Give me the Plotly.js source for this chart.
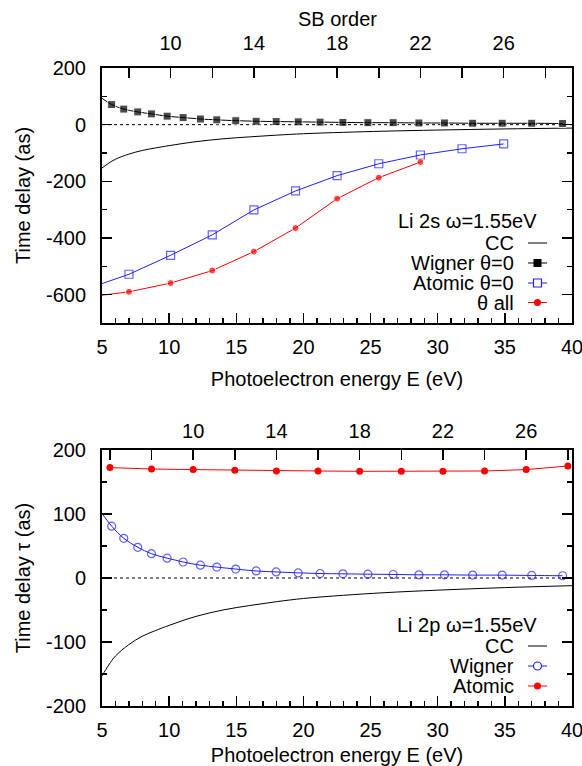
<!DOCTYPE html>
<html>
<head>
<meta charset="utf-8">
<script src="https://cdn.plot.ly/plotly-3.0.1.min.js"></script>
<style>html,body{margin:0;padding:0;background:#fff}#plot{width:582px;height:766px}</style>
</head>
<body>
<div id="plot"></div>
<script>
// ---------- data ----------
const omega = 1.55;      // photon energy, eV
const ip2s = 5.39;       // Li 2s binding energy used for SB axis
const ip2p = 3.71;       // Li 2p binding energy used for SB axis

// CC (continuum-continuum) delay, same for both panels
const ccE   = [5, 5.5, 6, 7, 8, 9, 10, 12, 14, 16, 18, 20, 23, 26, 30, 35, 40];
const ccTau = [-153, -136, -122, -104, -91, -82, -74, -60, -50, -43, -37, -32, -27, -23, -19, -15, -12];

// Wigner delay grid (uniform in momentum)
const wignerE   = [5, 5.72, 6.62, 7.66, 8.68, 9.85, 11.04, 12.33, 13.55, 14.96, 16.48, 17.97, 19.61, 21.24, 22.94, 24.8, 26.68, 28.6, 30.5, 32.6, 34.8, 37.0, 39.3];
const wigner2s  = [93, 71, 55, 45, 38, 30, 25, 20, 17, 14, 12, 11, 10, 9, 8, 7, 7, 6, 6, 5, 5, 5, 4];
const wigner2p  = [101, 81, 62, 48, 38, 31, 25, 20, 17, 14, 11, 9.5, 8, 7, 6.5, 6, 5.5, 5, 5, 4.5, 4.5, 4, 3.5];

// Li 2s atomic delays at sideband energies
const atomicE2s  = [5, 7.01, 10.11, 13.21, 16.31, 19.41, 22.51, 25.61, 28.71, 31.81, 34.91];
const atomic2s   = [-561, -528, -461, -389, -301, -234, -180, -138, -107, -85, -68];
const thetaAllE  = [5, 7.01, 10.11, 13.21, 16.31, 19.41, 22.51, 25.61, 28.71];
const thetaAll2s = [-602, -590, -559, -515, -448, -365, -261, -187, -132];

// Li 2p atomic delays at sideband energies
const atomicE2p = [5.59, 8.69, 11.79, 14.89, 17.99, 21.09, 24.19, 27.29, 30.39, 33.49, 36.59, 39.69];
const atomic2p  = [172.5, 170.3, 169.4, 168.3, 167.2, 167.2, 166.7, 166.7, 166.7, 167.2, 169.4, 175];

// tick labels
const eTicks      = [5, 10, 15, 20, 25, 30, 35, 40];
const yTicksTop   = [200, 0, -200, -400, -600];
const yTextTop    = ['200', '0', '-200', '-400', '-600'];
const yTicksBot   = [200, 100, 0, -100, -200];
const yTextBot    = ['200', '100', '0', '-100', '-200'];
const sbTicksTop  = [8, 10, 12, 14, 16, 18, 20, 22, 24, 26, 28];
const sbTicksBot  = [6, 8, 10, 12, 14, 16, 18, 20, 22, 24, 26, 28];
const sbLabelled  = [10, 14, 18, 22, 26];

// ---------- styling ----------
const FONT = 'Liberation Sans, Arial, sans-serif';
const FS = 20;
const BLUE = '#2020ff';
const RED = '#ff0000';

const L = 102, R = 572, T = 68, B = 706, W = 582, H = 766;
const px = x => (x - L) / (R - L);
const py = y => (B - y) / (B - T);

function sizes(arr, s, skipFirst) { return arr.map((_, i) => (skipFirst && i === 0) ? 0 : s); }

const traces = [
  {x: ccE, y: ccTau, xaxis: 'x', yaxis: 'y', mode: 'lines', line: {color: 'black', width: 1, shape: 'spline'}},
  {x: wignerE, y: wigner2s, xaxis: 'x', yaxis: 'y', mode: 'lines+markers', line: {color: 'black', width: 1, shape: 'spline'},
   marker: {symbol: 'square', color: 'black', size: sizes(wignerE, 8, true)}},
  {x: atomicE2s, y: atomic2s, xaxis: 'x', yaxis: 'y', mode: 'lines+markers', line: {color: BLUE, width: 1},
   marker: {symbol: 'square-open', color: BLUE, size: sizes(atomicE2s, 8, true), line: {width: 1.2}}},
  {x: thetaAllE, y: thetaAll2s, xaxis: 'x', yaxis: 'y', mode: 'lines+markers', line: {color: RED, width: 1},
   marker: {symbol: 'circle', color: RED, size: sizes(thetaAllE, 7, true)}},
  {x: [], y: [], xaxis: 'x2', yaxis: 'y', mode: 'markers'},

  {x: ccE, y: ccTau, xaxis: 'x3', yaxis: 'y2', mode: 'lines', line: {color: 'black', width: 1, shape: 'spline'}},
  {x: wignerE, y: wigner2p, xaxis: 'x3', yaxis: 'y2', mode: 'lines+markers', line: {color: BLUE, width: 1, shape: 'spline'},
   marker: {symbol: 'circle-open', color: BLUE, size: sizes(wignerE, 8, true), line: {width: 1.2}}},
  {x: atomicE2p, y: atomic2p, xaxis: 'x3', yaxis: 'y2', mode: 'lines+markers', line: {color: RED, width: 1},
   marker: {symbol: 'circle', color: RED, size: 7}},
  {x: [], y: [], xaxis: 'x4', yaxis: 'y2', mode: 'markers'}
];

const axBase = {
  showgrid: false, zeroline: false, showline: true, linecolor: 'black', linewidth: 2,
  ticks: 'inside', ticklen: 10, tickwidth: 1.5, tickcolor: 'black', ticklabeloverflow: 'allow',
  tickfont: {family: FONT, size: FS, color: 'black'}, fixedrange: true
};

function eAxis(anchor, titleStandoff) {
  return Object.assign({}, axBase, {
    anchor: anchor, range: [5, 40], tickmode: 'array', tickvals: eTicks, ticktext: eTicks.map(String),
    ticklabelstandoff: 5,
    minor: {tickmode: 'linear', tick0: 5, dtick: 1, ticks: 'inside', ticklen: 5, tickwidth: 1.5, tickcolor: 'black'},
    title: {text: 'Photoelectron energy E (eV)', font: {family: FONT, size: FS, color: 'black'}, standoff: titleStandoff}
  });
}
function sbAxis(over, anchor, ip, ticks, standoff) {
  return Object.assign({}, axBase, {
    overlaying: over, anchor: anchor, side: 'top',
    range: [(5 + ip) / omega, (40 + ip) / omega],
    tickmode: 'array', tickvals: ticks, ticktext: ticks.map(t => sbLabelled.includes(t) ? String(t) : ''),
    ticklabelstandoff: standoff
  });
}

const layout = {
  width: W, height: H, paper_bgcolor: 'white', plot_bgcolor: 'white', showlegend: false,
  margin: {l: L, r: W - R, t: T, b: H - B, pad: 0},
  font: {family: FONT, size: FS, color: 'black'},
  xaxis: eAxis('y', 15),
  xaxis2: sbAxis('x', 'y', ip2s, sbTicksTop, 8),
  yaxis: Object.assign({}, axBase, {
    domain: [py(323), 1], anchor: 'x', range: [-700, 200], mirror: 'ticks',
    tickmode: 'array', tickvals: yTicksTop, ticktext: yTextTop, ticklabelstandoff: 10,
    minor: {tickmode: 'linear', tick0: 0, dtick: 100, ticks: 'inside', ticklen: 5, tickwidth: 1.5, tickcolor: 'black'},
    title: {text: 'Time delay (as)', font: {family: FONT, size: FS, color: 'black'}, standoff: 10}
  }),
  xaxis3: eAxis('y2', 10),
  xaxis4: sbAxis('x3', 'y2', ip2p, sbTicksBot, 2),
  yaxis2: Object.assign({}, axBase, {
    domain: [0, py(450)], anchor: 'x3', range: [-200, 200], mirror: 'ticks',
    tickmode: 'array', tickvals: yTicksBot, ticktext: yTextBot, ticklabelstandoff: 10,
    minor: {tickmode: 'linear', tick0: 0, dtick: 50, ticks: 'inside', ticklen: 5, tickwidth: 1.5, tickcolor: 'black'},
    title: {text: 'Time delay τ (as)', font: {family: FONT, size: FS, color: 'black'}, standoff: 10}
  }),
  shapes: [],
  annotations: []
};

// top-axis title
layout.annotations.push({text: 'SB order', xref: 'paper', yref: 'paper', x: 0.5, y: py(19), xanchor: 'center', yanchor: 'middle', showarrow: false, font: {family: FONT, size: FS, color: 'black'}});

// zero reference lines
layout.shapes.push({type: 'line', xref: 'x domain', yref: 'y', x0: 0, x1: 1, y0: 0, y1: 0, layer: 'below', line: {color: 'black', width: 1, dash: 'dot'}});
layout.shapes.push({type: 'line', xref: 'x3 domain', yref: 'y2', x0: 0, x1: 1, y0: 0, y1: 0, layer: 'below', line: {color: 'black', width: 1, dash: 'dot'}});

// legend (gnuplot style: text right-aligned, sample on the right)
function legendTitle(text, yPix) {
  layout.annotations.push({text: text, xref: 'paper', yref: 'paper', x: px(539), y: py(yPix), xanchor: 'right', yanchor: 'middle', showarrow: false, font: {family: FONT, size: FS, color: 'black'}});
}
function legendEntry(text, yPix, color, marker) {
  layout.annotations.push({text: text, xref: 'paper', yref: 'paper', x: px(516), y: py(yPix), xanchor: 'right', yanchor: 'middle', showarrow: false, font: {family: FONT, size: FS, color: 'black'}});
  layout.shapes.push({type: 'line', xref: 'paper', yref: 'paper', x0: px(528), x1: px(547), y0: py(yPix), y1: py(yPix), line: {color: color, width: 1}});
  if (marker) {
    const s = marker.size / 2;
    layout.shapes.push({type: marker.type, xref: 'paper', yref: 'paper', xsizemode: 'pixel', ysizemode: 'pixel',
      xanchor: px(537.5), yanchor: py(yPix), x0: -s, x1: s, y0: -s, y1: s,
      fillcolor: marker.fill ? color : 'white', line: {color: color, width: marker.fill ? 0 : 1.2}});
  }
}
legendTitle('Li 2s ω=1.55eV', 221);
legendEntry('CC', 243, 'black', null);
legendEntry('Wigner θ=0', 263, 'black', {type: 'rect', size: 8, fill: true});
legendEntry('Atomic θ=0', 283, BLUE, {type: 'rect', size: 8, fill: false});
legendEntry('θ all', 302.5, RED, {type: 'circle', size: 7, fill: true});

legendTitle('Li 2p ω=1.55eV', 625);
legendEntry('CC', 646, 'black', null);
legendEntry('Wigner', 666, BLUE, {type: 'circle', size: 8, fill: false});
legendEntry('Atomic', 686, RED, {type: 'circle', size: 7, fill: true});

Plotly.newPlot('plot', traces, layout, {staticPlot: true, displayModeBar: false});
</script>
</body>
</html>
